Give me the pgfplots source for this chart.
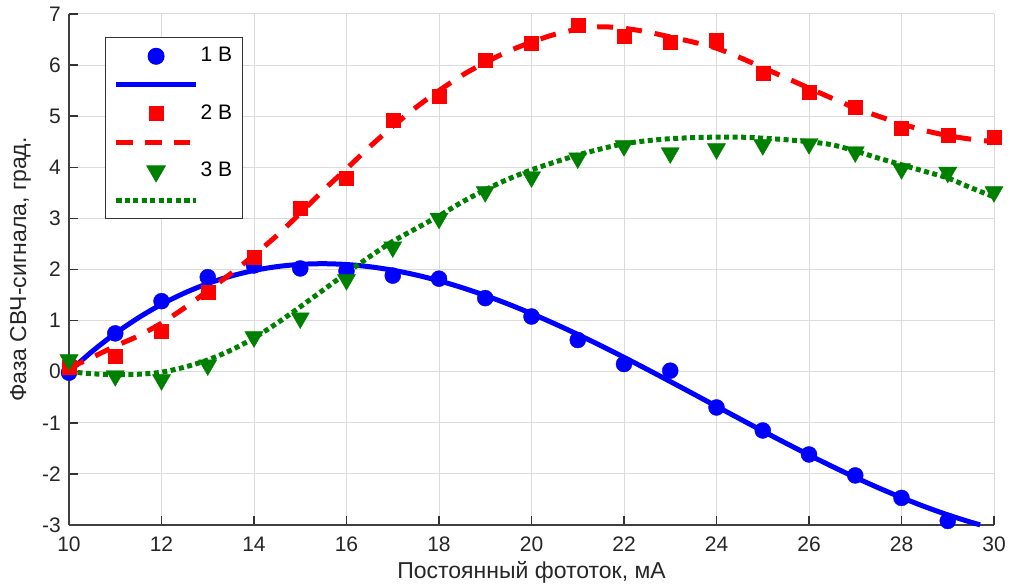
\documentclass[border=0pt]{standalone}
\usepackage{fontspec}
\setmainfont{Liberation Sans}
\usepackage{pgfplots}
\pgfplotsset{compat=1.18}
\definecolor{mblue}{RGB}{0,0,255}
\definecolor{mred}{RGB}{255,0,0}
\definecolor{mgreen}{RGB}{0,128,0}
\begin{document}
\fontsize{21}{25}\selectfont
\begin{tikzpicture}
\useasboundingbox (-69pt,-60pt) rectangle (941pt,525pt);
\begin{axis}[
  scale only axis, width=925pt, height=511pt,
  xmin=10, xmax=30, ymin=-3, ymax=7,
  xtick={10,12,...,30}, ytick={-3,-2,...,7},
  axis x line*=bottom, axis y line*=left,
  axis line style={draw=black!75, line width=1.5pt, -},
  tick align=inside, major tick length=9pt,
  tick style={draw=black!80, line width=1.5pt},
  grid=major, grid style={draw=black!14, line width=1pt},
  /pgf/number format/assume math mode=true,
  tick label style={font=\fontsize{21}{25}\selectfont, text=black!85},
  xticklabel style={yshift=-5pt},
  yticklabel style={xshift=-1pt},
  xlabel={Постоянный фототок, мА},
  ylabel={Фаза СВЧ-сигнала, град.},
  label style={font=\fontsize{23}{27}\selectfont, text=black!85},
  xlabel style={yshift=5pt},
  ylabel style={yshift=-3pt},
  clip=false,
  legend image code/.code={\draw[mark repeat=2,mark phase=2,#1] plot coordinates {(0pt,0pt) (40pt,0pt) (80pt,0pt)};},
  legend style={at={(0.039,0.955)}, anchor=north west, draw=black!80, line width=1pt, fill=white,
    font=\fontsize{21}{25}\selectfont, row sep=7pt, inner xsep=8pt, inner ysep=8pt},
  legend cell align=left,
]
\addplot[only marks, mark=*, mark size=8pt, color=mblue] coordinates {
(10,-0.02) (11,0.75) (12,1.38) (13,1.85) (14,2.08) (15,2.02) (16,1.97) (17,1.88) (18,1.82) (19,1.44)
(20,1.08) (21,0.62) (22,0.15) (23,0.02) (24,-0.70) (25,-1.15) (26,-1.62) (27,-2.03) (28,-2.47) (29,-2.92)};
\addlegendentry{1 В}
\addplot[mblue, line width=5pt, smooth] coordinates {
(10,0) (10.5,0.3971) (11,0.748) (11.5,1.0546) (12,1.3183) (12.5,1.5411) (13,1.7245) (13.5,1.8705)
(14,1.9806) (14.5,2.0566) (15,2.1002) (15.5,2.1132) (16,2.0974) (16.5,2.0543) (17,1.9858) (17.5,1.8936)
(18,1.7793) (18.5,1.6448) (19,1.4918) (19.5,1.322) (20,1.137) (20.5,0.9387) (21,0.7288) (21.5,0.5091)
(22,0.281) (22.5,0.0466) (23,-0.1926) (23.5,-0.4346) (24,-0.6779) (24.5,-0.9207) (25,-1.1618) (25.5,-1.3985)
(26,-1.6297) (26.5,-1.8533) (27,-2.0682) (27.5,-2.272) (28,-2.4632) (28.5,-2.6403) (29,-2.8015) (29.5,-2.9454) (29.7,-2.9965)};
\addlegendentry{\phantom{1 В}}
\addplot[only marks, mark=square*, mark size=7pt, color=mred] coordinates {
(10,0.08) (11,0.31) (12,0.80) (13,1.56) (14,2.25) (15,3.20) (16,3.79) (17,4.92) (18,5.40) (19,6.10)
(20,6.43) (21,6.78) (22,6.57) (23,6.45) (24,6.49) (25,5.84) (26,5.47) (27,5.18) (28,4.77) (29,4.63) (30,4.59)};
\addlegendentry{2 В}
\addplot[mred, line width=5pt, smooth, dash pattern=on 16pt off 13pt] coordinates {
(10,0.07) (10.5,0.28) (11,0.5) (11.5,0.7) (12,0.95) (12.5,1.25) (13,1.58) (13.5,1.92) (14,2.28) (14.5,2.67)
(15,3.1) (15.5,3.55) (16,3.97) (16.5,4.4) (17,4.8) (17.5,5.17) (18,5.5) (18.5,5.8) (19,6.05) (19.5,6.27)
(20,6.45) (20.5,6.6) (21,6.7) (21.5,6.75) (22,6.72) (22.5,6.65) (23,6.55) (23.5,6.45) (24,6.33) (24.5,6.15)
(25,5.95) (25.5,5.75) (26,5.55) (26.5,5.35) (27,5.16) (27.5,5.0) (28,4.85) (28.5,4.72) (29,4.62) (29.5,4.55) (30,4.5)};
\addlegendentry{\phantom{2 В}}
\addplot[only marks, mark=triangle*, mark size=10.5pt, mark options={rotate=180}, color=mgreen] coordinates {
(10,0.23) (11,-0.08) (12,-0.16) (13,0.13) (14,0.68) (15,1.05) (16,1.80) (17,2.44) (18,3.00) (19,3.52)
(20,3.81) (21,4.18) (22,4.42) (23,4.28) (24,4.36) (25,4.44) (26,4.46) (27,4.30) (28,3.97) (29,3.90) (30,3.52)};
\addlegendentry{3 В}
\addplot[mgreen, line width=5pt, smooth, dash pattern=on 5pt off 3.5pt] coordinates {
(10,0.0) (10.5,-0.04) (11,-0.06) (11.5,-0.05) (12,-0.01) (12.5,0.09) (13,0.23) (13.5,0.42) (14,0.66) (14.5,0.95)
(15,1.27) (15.5,1.6) (16,1.93) (16.5,2.25) (17,2.55) (17.5,2.8) (18,3.05) (18.5,3.32) (19,3.56) (19.5,3.77)
(20,3.95) (20.5,4.1) (21,4.24) (21.5,4.36) (22,4.46) (22.5,4.52) (23,4.56) (23.5,4.58) (24,4.59) (24.5,4.59)
(25,4.57) (25.5,4.54) (26,4.5) (26.5,4.44) (27,4.32) (27.5,4.18) (28,4.05) (28.5,3.92) (29,3.79) (29.5,3.6) (30,3.42)};
\addlegendentry{\phantom{3 В}}
\end{axis}
\end{tikzpicture}
\end{document}
